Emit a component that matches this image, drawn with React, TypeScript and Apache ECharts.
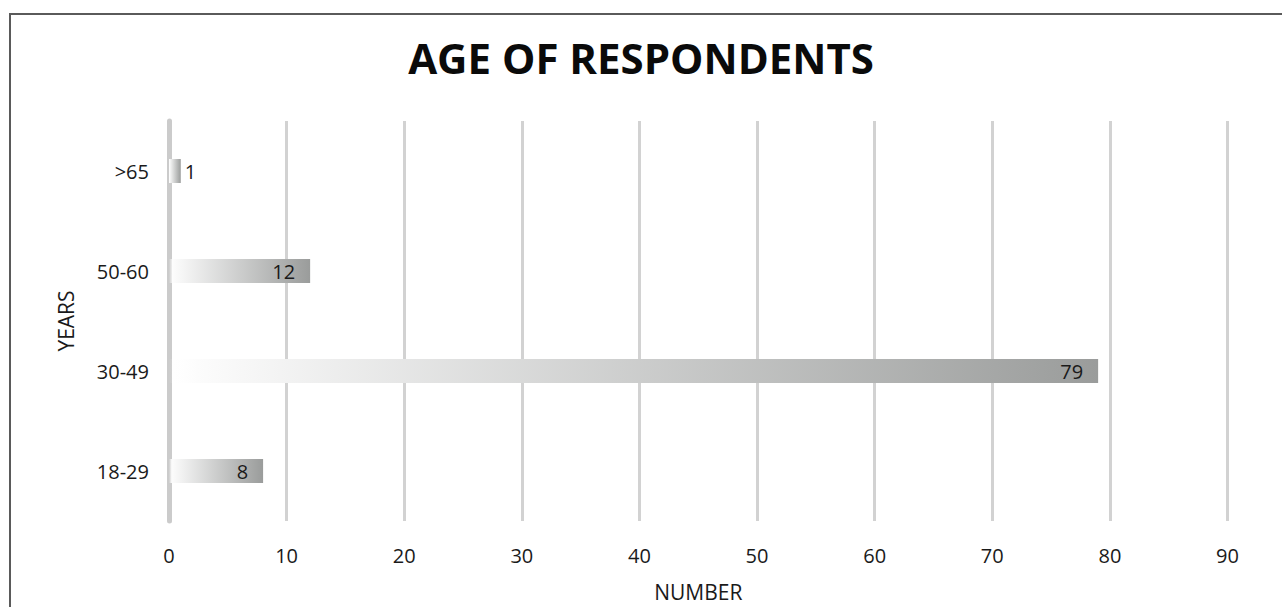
import React, { useEffect, useRef } from "react";
import * as echarts from "echarts";

const categories = ["18-29", "30-49", "50-60", ">65"];
const values = [8, 79, 12, 1];
const xTicks = [0, 10, 20, 30, 40, 50, 60, 70, 80, 90];
const titleText = "AGE OF RESPONDENTS";
const xName = "NUMBER";
const yName = "YEARS";

export default function App() {
  const ref = useRef<HTMLDivElement>(null);
  useEffect(() => {
    if (!ref.current) return;
    const chart = echarts.init(ref.current, null, { renderer: "svg" });
    const font = "'Open Sans', 'Noto Sans', sans-serif";
    const data = values.map((v) => ({
      value: v,
      label:
        v < 3
          ? { position: "right" as const, distance: 4 }
          : { position: "insideRight" as const, distance: 15 },
    }));
    chart.setOption({
      animation: false,
      backgroundColor: "#ffffff",
      textStyle: { fontFamily: font },
      title: {
        text: titleText,
        left: "center",
        top: 31,
        textStyle: { fontFamily: font, fontSize: 42, fontWeight: "bold", color: "#0a0a0a" },
      },
      graphic: [
        {
          type: "rect",
          shape: { x: 10, y: 14, width: 1400, height: 800 },
          style: { fill: "none", stroke: "#5a5a5a", lineWidth: 2 },
          silent: true,
        },
      ],
      grid: { left: 169, right: 54.5, top: 121, bottom: 84, containLabel: false },
      xAxis: {
        type: "value",
        min: xTicks[0],
        max: xTicks[xTicks.length - 1],
        interval: 10,
        name: xName,
        nameLocation: "middle",
        nameGap: 60,
        nameTextStyle: { fontFamily: font, fontSize: 21, color: "#1a1a1a" },
        axisLine: { show: false },
        axisTick: { show: false },
        axisLabel: { fontFamily: font, fontSize: 20, color: "#1a1a1a", margin: 24 },
        splitLine: { show: true, lineStyle: { color: "#d2d2d2", width: 3 } },
      },
      yAxis: {
        type: "category",
        data: categories,
        name: yName,
        nameLocation: "middle",
        nameGap: 93,
        nameRotate: 90,
        nameTextStyle: { fontFamily: font, fontSize: 21, color: "#1a1a1a" },
        axisLine: { show: true, lineStyle: { color: "#cbcbcb", width: 5 } },
        axisTick: { show: false },
        axisLabel: { fontFamily: font, fontSize: 20, color: "#1a1a1a", margin: 20 },
        splitLine: { show: false },
      },
      series: [
        {
          type: "bar",
          data,
          barWidth: 24,
          itemStyle: {
            color: new echarts.graphic.LinearGradient(0, 0, 1, 0, [
              { offset: 0, color: "rgba(255,255,255,0)" },
              { offset: 0.03, color: "rgba(252,252,252,1)" },
              { offset: 1, color: "#9a9c9b" },
            ]),
          },
          label: {
            show: true,
            fontFamily: font,
            fontSize: 20,
            color: "#1a1a1a",
          },
        },
      ],
    });
    return () => chart.dispose();
  }, []);
  return (
    <div
      ref={ref}
      style={{ position: "fixed", left: 0, top: 0, width: 1282, height: 607 }}
    />
  );
}
